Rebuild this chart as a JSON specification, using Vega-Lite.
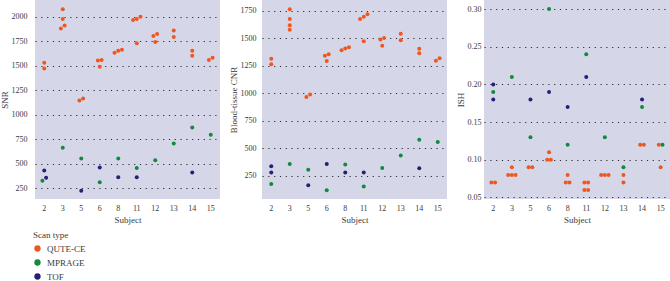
{
  "$schema": "https://vega.github.io/schema/vega-lite/v6.json",
  "padding": 0,
  "background": "white",
  "datasets": {
    "scans": [
      {"subject": 2, "scan": "QUTE-CE", "snr": 1530, "cnr": 1315, "ish": 0.07},
      {"subject": 2, "scan": "QUTE-CE", "snr": 1470, "cnr": 1265, "ish": 0.07},
      {"subject": 3, "scan": "QUTE-CE", "snr": 2075, "cnr": 1765, "ish": 0.09},
      {"subject": 3, "scan": "QUTE-CE", "snr": 1975, "cnr": 1677, "ish": 0.08},
      {"subject": 3, "scan": "QUTE-CE", "snr": 1910, "cnr": 1620, "ish": 0.08},
      {"subject": 3, "scan": "QUTE-CE", "snr": 1880, "cnr": 1580, "ish": 0.08},
      {"subject": 5, "scan": "QUTE-CE", "snr": 1165, "cnr": 990, "ish": 0.09},
      {"subject": 5, "scan": "QUTE-CE", "snr": 1145, "cnr": 968, "ish": 0.09},
      {"subject": 6, "scan": "QUTE-CE", "snr": 1558, "cnr": 1356, "ish": 0.11},
      {"subject": 6, "scan": "QUTE-CE", "snr": 1552, "cnr": 1344, "ish": 0.10},
      {"subject": 6, "scan": "QUTE-CE", "snr": 1490, "cnr": 1295, "ish": 0.10},
      {"subject": 8, "scan": "QUTE-CE", "snr": 1662, "cnr": 1420, "ish": 0.08},
      {"subject": 8, "scan": "QUTE-CE", "snr": 1652, "cnr": 1410, "ish": 0.07},
      {"subject": 8, "scan": "QUTE-CE", "snr": 1632, "cnr": 1393, "ish": 0.07},
      {"subject": 11, "scan": "QUTE-CE", "snr": 2000, "cnr": 1720, "ish": 0.07},
      {"subject": 11, "scan": "QUTE-CE", "snr": 1975, "cnr": 1698, "ish": 0.07},
      {"subject": 11, "scan": "QUTE-CE", "snr": 1965, "cnr": 1677, "ish": 0.06},
      {"subject": 11, "scan": "QUTE-CE", "snr": 1730, "cnr": 1474, "ish": 0.06},
      {"subject": 12, "scan": "QUTE-CE", "snr": 1822, "cnr": 1505, "ish": 0.08},
      {"subject": 12, "scan": "QUTE-CE", "snr": 1803, "cnr": 1490, "ish": 0.08},
      {"subject": 12, "scan": "QUTE-CE", "snr": 1742, "cnr": 1435, "ish": 0.08},
      {"subject": 13, "scan": "QUTE-CE", "snr": 1860, "cnr": 1544, "ish": 0.08},
      {"subject": 13, "scan": "QUTE-CE", "snr": 1793, "cnr": 1483, "ish": 0.07},
      {"subject": 14, "scan": "QUTE-CE", "snr": 1652, "cnr": 1407, "ish": 0.12},
      {"subject": 14, "scan": "QUTE-CE", "snr": 1602, "cnr": 1365, "ish": 0.12},
      {"subject": 15, "scan": "QUTE-CE", "snr": 1580, "cnr": 1320, "ish": 0.12},
      {"subject": 15, "scan": "QUTE-CE", "snr": 1558, "cnr": 1298, "ish": 0.09},
      {"subject": 2, "scan": "MPRAGE", "snr": 325, "cnr": 177, "ish": 0.19},
      {"subject": 3, "scan": "MPRAGE", "snr": 662, "cnr": 359, "ish": 0.21},
      {"subject": 5, "scan": "MPRAGE", "snr": 553, "cnr": 305, "ish": 0.13},
      {"subject": 6, "scan": "MPRAGE", "snr": 311, "cnr": 120, "ish": 0.30},
      {"subject": 8, "scan": "MPRAGE", "snr": 553, "cnr": 353, "ish": 0.12},
      {"subject": 11, "scan": "MPRAGE", "snr": 455, "cnr": 153, "ish": 0.24},
      {"subject": 12, "scan": "MPRAGE", "snr": 536, "cnr": 323, "ish": 0.13},
      {"subject": 13, "scan": "MPRAGE", "snr": 707, "cnr": 435, "ish": 0.09},
      {"subject": 14, "scan": "MPRAGE", "snr": 870, "cnr": 580, "ish": 0.17},
      {"subject": 15, "scan": "MPRAGE", "snr": 795, "cnr": 559, "ish": 0.12},
      {"subject": 2, "scan": "TOF", "snr": 431, "cnr": 338, "ish": 0.20},
      {"subject": 2, "scan": "TOF", "snr": 356, "cnr": 280, "ish": 0.18},
      {"subject": 5, "scan": "TOF", "snr": 223, "cnr": 165, "ish": 0.18},
      {"subject": 6, "scan": "TOF", "snr": 462, "cnr": 359, "ish": 0.19},
      {"subject": 8, "scan": "TOF", "snr": 363, "cnr": 280, "ish": 0.17},
      {"subject": 11, "scan": "TOF", "snr": 363, "cnr": 280, "ish": 0.21},
      {"subject": 14, "scan": "TOF", "snr": 411, "cnr": 320, "ish": 0.18}
    ]
  },
  "data": {"name": "scans"},
  "spacing": 9,
  "resolve": {"scale": {"color": "shared"}, "legend": {"color": "shared"}},
  "hconcat": [
    {
      "width": 185,
      "height": 199,
      "transform": [
        {"window": [{"op": "lag", "field": "snr", "as": "prev"}], "groupby": ["subject"], "sort": [{"field": "snr", "order": "ascending"}]},
        {"calculate": "datum.prev == null || datum.snr - datum.prev >= 35 ? 1 : 0", "as": "newgrp"},
        {"window": [{"op": "sum", "field": "newgrp", "as": "grp"}], "groupby": ["subject"], "sort": [{"field": "snr", "order": "ascending"}], "frame": [null, 0]},
        {"window": [{"op": "row_number", "as": "slot"}, {"op": "count", "as": "n"}], "groupby": ["subject", "grp"], "sort": [{"field": "snr", "order": "ascending"}], "frame": [null, null]},
        {"calculate": "datum.slot - (datum.n + 1) / 2", "as": "swarm"}
      ],
      "mark": {"type": "circle", "size": 16, "opacity": 1},
      "encoding": {
        "x": {"field": "subject", "type": "ordinal", "scale": {"type": "band", "paddingInner": 0, "paddingOuter": 0}, "axis": {"title": "Subject", "labelAngle": 0}},
        "xOffset": {"field": "swarm", "type": "quantitative", "scale": {"domain": [-2.5, 2.5], "range": [0, 18.5]}},
        "y": {"field": "snr", "type": "quantitative", "scale": {"domain": [140, 2170], "nice": false, "zero": false}, "axis": {"title": "SNR", "values": [250, 500, 750, 1000, 1250, 1500, 1750, 2000], "format": "d", "labelPadding": 8}},
        "color": {"field": "scan", "type": "nominal", "scale": {"domain": ["QUTE-CE", "MPRAGE", "TOF"], "range": ["#f0561e", "#12893c", "#261f76"]}, "legend": {"title": "Scan type", "orient": "none", "legendX": -2, "legendY": 231}}
      }
    },
    {
      "width": 185,
      "height": 199,
      "transform": [
        {"window": [{"op": "lag", "field": "cnr", "as": "prev"}], "groupby": ["subject"], "sort": [{"field": "cnr", "order": "ascending"}]},
        {"calculate": "datum.prev == null || datum.cnr - datum.prev >= 30 ? 1 : 0", "as": "newgrp"},
        {"window": [{"op": "sum", "field": "newgrp", "as": "grp"}], "groupby": ["subject"], "sort": [{"field": "cnr", "order": "ascending"}], "frame": [null, 0]},
        {"window": [{"op": "row_number", "as": "slot"}, {"op": "count", "as": "n"}], "groupby": ["subject", "grp"], "sort": [{"field": "cnr", "order": "ascending"}], "frame": [null, null]},
        {"calculate": "datum.slot - (datum.n + 1) / 2", "as": "swarm"}
      ],
      "mark": {"type": "circle", "size": 16, "opacity": 1},
      "encoding": {
        "x": {"field": "subject", "type": "ordinal", "scale": {"type": "band", "paddingInner": 0, "paddingOuter": 0}, "axis": {"title": "Subject", "labelAngle": 0}},
        "xOffset": {"field": "swarm", "type": "quantitative", "scale": {"domain": [-2.5, 2.5], "range": [0, 18.5]}},
        "y": {"field": "cnr", "type": "quantitative", "scale": {"domain": [40, 1850], "nice": false, "zero": false}, "axis": {"title": "Blood-tissue CNR", "values": [250, 500, 750, 1000, 1250, 1500, 1750], "format": "d", "labelPadding": 6}},
        "color": {"field": "scan", "type": "nominal", "scale": {"domain": ["QUTE-CE", "MPRAGE", "TOF"], "range": ["#f0561e", "#12893c", "#261f76"]}, "legend": {"title": "Scan type", "orient": "none", "legendX": -2, "legendY": 231}}
      }
    },
    {
      "width": 186,
      "height": 199,
      "transform": [
        {"window": [{"op": "lag", "field": "ish", "as": "prev"}], "groupby": ["subject"], "sort": [{"field": "ish", "order": "ascending"}]},
        {"calculate": "datum.prev == null || datum.ish - datum.prev >= 0.005 ? 1 : 0", "as": "newgrp"},
        {"window": [{"op": "sum", "field": "newgrp", "as": "grp"}], "groupby": ["subject"], "sort": [{"field": "ish", "order": "ascending"}], "frame": [null, 0]},
        {"window": [{"op": "row_number", "as": "slot"}, {"op": "count", "as": "n"}], "groupby": ["subject", "grp"], "sort": [{"field": "ish", "order": "ascending"}], "frame": [null, null]},
        {"calculate": "datum.slot - (datum.n + 1) / 2", "as": "swarm"}
      ],
      "mark": {"type": "circle", "size": 16, "opacity": 1},
      "encoding": {
        "x": {"field": "subject", "type": "ordinal", "scale": {"type": "band", "paddingInner": 0, "paddingOuter": 0}, "axis": {"title": "Subject", "labelAngle": 0}},
        "xOffset": {"field": "swarm", "type": "quantitative", "scale": {"domain": [-2.5, 2.5], "range": [0, 18.6]}},
        "y": {"field": "ish", "type": "quantitative", "scale": {"domain": [0.048, 0.312], "nice": false, "zero": false}, "axis": {"title": "ISH", "values": [0.05, 0.10, 0.15, 0.20, 0.25, 0.30], "format": ".2f", "labelPadding": 3}},
        "color": {"field": "scan", "type": "nominal", "scale": {"domain": ["QUTE-CE", "MPRAGE", "TOF"], "range": ["#f0561e", "#12893c", "#261f76"]}, "legend": {"title": "Scan type", "orient": "none", "legendX": -2, "legendY": 231}}
      }
    }
  ],
  "config": {
    "font": "Liberation Serif",
    "view": {"fill": "#d6d6e9", "stroke": null},
    "axis": {
      "domain": false,
      "ticks": false,
      "grid": false,
      "labelFontSize": 8,
      "titleFontSize": 9,
      "titleFontWeight": "normal",
      "labelColor": "#3a3a3a",
      "titleColor": "#3a3a3a"
    },
    "axisY": {
      "grid": true,
      "gridColor": "#2e2e2e",
      "gridDash": [1.2, 4.6],
      "gridWidth": 1.1,
      "titlePadding": 2
    },
    "axisX": {"labelPadding": 5, "titlePadding": 3},
    "legend": {
      "titleFontSize": 9,
      "titleFontWeight": "normal",
      "titleColor": "#3a3a3a",
      "titlePadding": 4,
      "labelFontSize": 9,
      "labelColor": "#3a3a3a",
      "labelOffset": 5,
      "symbolType": "circle",
      "symbolSize": 40,
      "rowPadding": 4
    }
  }
}
